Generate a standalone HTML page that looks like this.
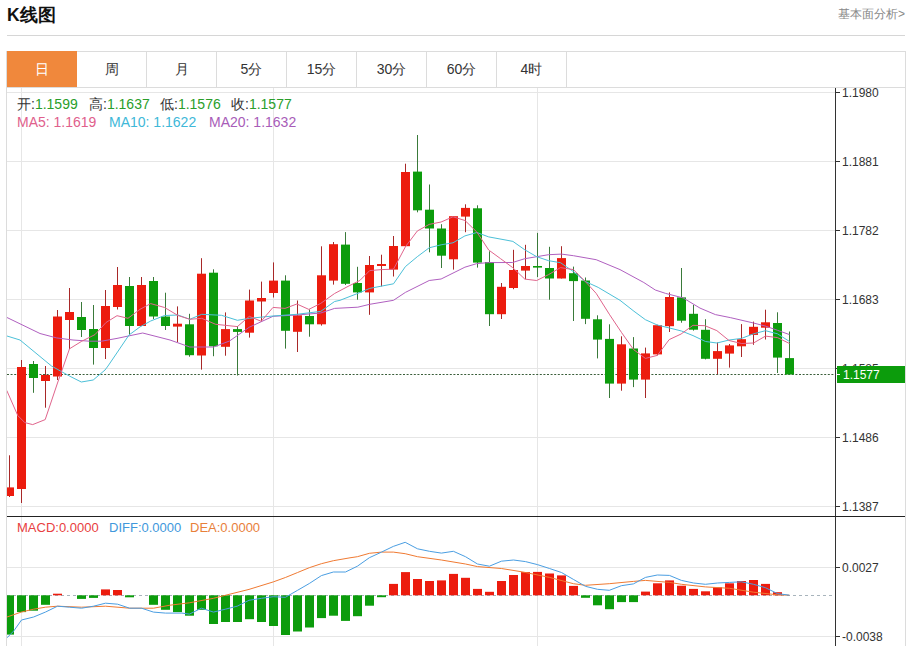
<!DOCTYPE html>
<html><head><meta charset="utf-8">
<style>
html,body{margin:0;padding:0;background:#fff;}
body{width:911px;height:646px;overflow:hidden;position:relative;font-family:"Liberation Sans",sans-serif;}
.title{position:absolute;left:7px;top:5px;font-size:17.5px;font-weight:bold;color:#111;line-height:20px;}
.more{position:absolute;right:6px;top:6px;font-size:12px;color:#888;line-height:16px;}
.hr{position:absolute;left:7px;top:35px;width:898px;height:1px;background:#d6d6d6;}
.box{position:absolute;left:6px;top:51px;width:898px;height:600px;border:1px solid #dcdcdc;}
.tabs{position:absolute;left:7px;top:52px;height:35px;}
.tab{position:absolute;top:0;width:69px;height:35px;border-right:1px solid #dcdcdc;font-size:14px;color:#333;text-align:center;line-height:35px;}
.tab.on{background:#f0883c;color:#fff;border-right-color:#f0883c;top:-1px;height:36px;line-height:37px;}
.tabline{position:absolute;left:7px;top:87px;width:898px;height:1px;background:#dcdcdc;}
svg{position:absolute;left:0;top:0;}
.ax{font-size:12px;fill:#333;font-family:"Liberation Sans",sans-serif;}
.info{position:absolute;font-size:14px;line-height:16px;white-space:nowrap;}
.k{color:#333;} .g{color:#2a9e2a;}
</style></head><body>
<div class="title">K线图</div>
<div class="more">基本面分析&gt;</div>
<div class="hr"></div>
<div class="box"></div>
<div class="tabs">
<div class="tab on" style="left:0">日</div>
<div class="tab" style="left:70px">周</div>
<div class="tab" style="left:140px">月</div>
<div class="tab" style="left:210px">5分</div>
<div class="tab" style="left:280px">15分</div>
<div class="tab" style="left:350px">30分</div>
<div class="tab" style="left:420px">60分</div>
<div class="tab" style="left:490px">4时</div>
</div>
<div class="tabline"></div>
<svg width="911" height="646" viewBox="0 0 911 646">
<line x1="7" y1="92.5" x2="835" y2="92.5" stroke="#e6e6e6" stroke-width="1"/>
<line x1="7" y1="161.5" x2="835" y2="161.5" stroke="#e6e6e6" stroke-width="1"/>
<line x1="7" y1="230.5" x2="835" y2="230.5" stroke="#e6e6e6" stroke-width="1"/>
<line x1="7" y1="299.5" x2="835" y2="299.5" stroke="#e6e6e6" stroke-width="1"/>
<line x1="7" y1="368.5" x2="835" y2="368.5" stroke="#e6e6e6" stroke-width="1"/>
<line x1="7" y1="437.5" x2="835" y2="437.5" stroke="#e6e6e6" stroke-width="1"/>
<line x1="7" y1="506.5" x2="835" y2="506.5" stroke="#e6e6e6" stroke-width="1"/>
<line x1="7" y1="567.5" x2="835" y2="567.5" stroke="#e6e6e6" stroke-width="1"/>
<line x1="7" y1="636.5" x2="835" y2="636.5" stroke="#e6e6e6" stroke-width="1"/>
<line x1="21.5" y1="88" x2="21.5" y2="646" stroke="#e6e6e6" stroke-width="1"/>
<line x1="273.5" y1="88" x2="273.5" y2="646" stroke="#e6e6e6" stroke-width="1"/>
<line x1="537.5" y1="88" x2="537.5" y2="646" stroke="#e6e6e6" stroke-width="1"/>
<clipPath id="c"><rect x="7" y="88" width="828" height="428"/></clipPath><clipPath id="m"><rect x="7" y="517" width="828" height="129"/></clipPath>
<g clip-path="url(#c)">
<line x1="7" y1="374.5" x2="834" y2="374.5" stroke="#3a5e3a" stroke-width="1" stroke-dasharray="2 1.6"/>
<rect x="9" y="455.3" width="1" height="41.7" fill="#a82828"/>
<rect x="5" y="487.4" width="9" height="8.6" fill="#ec1c0e"/>
<rect x="21" y="360.0" width="1" height="143.0" fill="#a82828"/>
<rect x="17" y="367.0" width="9" height="122.0" fill="#ec1c0e"/>
<rect x="33" y="361.0" width="1" height="31.8" fill="#3a7a3a"/>
<rect x="29" y="364.0" width="9" height="14.0" fill="#0c9c0c"/>
<rect x="45" y="366.0" width="1" height="41.7" fill="#a82828"/>
<rect x="41" y="375.0" width="9" height="6.0" fill="#ec1c0e"/>
<rect x="57" y="310.0" width="1" height="70.0" fill="#a82828"/>
<rect x="53" y="316.5" width="9" height="60.0" fill="#ec1c0e"/>
<rect x="69" y="288.0" width="1" height="61.0" fill="#a82828"/>
<rect x="65" y="312.0" width="9" height="8.0" fill="#ec1c0e"/>
<rect x="81" y="302.0" width="1" height="35.0" fill="#3a7a3a"/>
<rect x="77" y="317.0" width="9" height="13.0" fill="#0c9c0c"/>
<rect x="93" y="305.0" width="1" height="59.6" fill="#3a7a3a"/>
<rect x="89" y="329.0" width="9" height="19.0" fill="#0c9c0c"/>
<rect x="105" y="290.0" width="1" height="69.0" fill="#a82828"/>
<rect x="101" y="306.0" width="9" height="42.0" fill="#ec1c0e"/>
<rect x="117" y="267.0" width="1" height="42.5" fill="#a82828"/>
<rect x="113" y="285.0" width="9" height="22.0" fill="#ec1c0e"/>
<rect x="129" y="277.0" width="1" height="58.0" fill="#3a7a3a"/>
<rect x="125" y="286.0" width="9" height="40.0" fill="#0c9c0c"/>
<rect x="141" y="277.0" width="1" height="49.0" fill="#a82828"/>
<rect x="137" y="285.0" width="9" height="41.0" fill="#ec1c0e"/>
<rect x="153" y="277.0" width="1" height="42.0" fill="#3a7a3a"/>
<rect x="149" y="281.0" width="9" height="35.5" fill="#0c9c0c"/>
<rect x="165" y="292.7" width="1" height="37.3" fill="#3a7a3a"/>
<rect x="161" y="316.5" width="9" height="9.5" fill="#0c9c0c"/>
<rect x="177" y="306.4" width="1" height="35.6" fill="#a82828"/>
<rect x="173" y="323.7" width="9" height="2.9" fill="#ec1c0e"/>
<rect x="189" y="313.8" width="1" height="42.9" fill="#3a7a3a"/>
<rect x="185" y="324.3" width="9" height="30.9" fill="#0c9c0c"/>
<rect x="201" y="258.2" width="1" height="111.4" fill="#a82828"/>
<rect x="197" y="273.7" width="9" height="81.8" fill="#ec1c0e"/>
<rect x="213" y="269.3" width="1" height="86.9" fill="#3a7a3a"/>
<rect x="209" y="272.7" width="9" height="73.6" fill="#0c9c0c"/>
<rect x="225" y="312.4" width="1" height="43.3" fill="#a82828"/>
<rect x="221" y="329.1" width="9" height="17.7" fill="#ec1c0e"/>
<rect x="237" y="326.0" width="1" height="49.5" fill="#3a7a3a"/>
<rect x="233" y="329.1" width="9" height="2.8" fill="#0c9c0c"/>
<rect x="249" y="289.6" width="1" height="48.0" fill="#a82828"/>
<rect x="245" y="300.5" width="9" height="32.2" fill="#ec1c0e"/>
<rect x="261" y="281.6" width="1" height="39.7" fill="#a82828"/>
<rect x="257" y="298.0" width="9" height="3.5" fill="#ec1c0e"/>
<rect x="273" y="262.4" width="1" height="35.1" fill="#a82828"/>
<rect x="269" y="280.6" width="9" height="12.4" fill="#ec1c0e"/>
<rect x="285" y="275.3" width="1" height="73.3" fill="#3a7a3a"/>
<rect x="281" y="280.6" width="9" height="50.2" fill="#0c9c0c"/>
<rect x="297" y="300.5" width="1" height="51.5" fill="#a82828"/>
<rect x="293" y="315.3" width="9" height="16.5" fill="#ec1c0e"/>
<rect x="309" y="309.4" width="1" height="27.3" fill="#3a7a3a"/>
<rect x="305" y="316.0" width="9" height="8.3" fill="#0c9c0c"/>
<rect x="321" y="246.3" width="1" height="79.3" fill="#a82828"/>
<rect x="317" y="275.3" width="9" height="49.0" fill="#ec1c0e"/>
<rect x="333" y="242.0" width="1" height="42.6" fill="#a82828"/>
<rect x="329" y="244.2" width="9" height="36.4" fill="#ec1c0e"/>
<rect x="345" y="232.1" width="1" height="52.9" fill="#3a7a3a"/>
<rect x="341" y="244.6" width="9" height="39.2" fill="#0c9c0c"/>
<rect x="357" y="266.8" width="1" height="32.9" fill="#3a7a3a"/>
<rect x="353" y="283.0" width="9" height="9.4" fill="#0c9c0c"/>
<rect x="369" y="256.0" width="1" height="58.8" fill="#a82828"/>
<rect x="365" y="265.0" width="9" height="27.4" fill="#ec1c0e"/>
<rect x="381" y="254.7" width="1" height="31.7" fill="#a82828"/>
<rect x="377" y="264.0" width="9" height="2.0" fill="#ec1c0e"/>
<rect x="393" y="236.0" width="1" height="40.5" fill="#a82828"/>
<rect x="389" y="246.0" width="9" height="23.6" fill="#ec1c0e"/>
<rect x="405" y="163.7" width="1" height="82.7" fill="#a82828"/>
<rect x="401" y="172.0" width="9" height="74.2" fill="#ec1c0e"/>
<rect x="417" y="135.0" width="1" height="77.3" fill="#3a7a3a"/>
<rect x="413" y="171.6" width="9" height="38.7" fill="#0c9c0c"/>
<rect x="429" y="184.5" width="1" height="67.8" fill="#3a7a3a"/>
<rect x="425" y="209.7" width="9" height="18.8" fill="#0c9c0c"/>
<rect x="441" y="224.2" width="1" height="43.8" fill="#3a7a3a"/>
<rect x="437" y="228.5" width="9" height="27.2" fill="#0c9c0c"/>
<rect x="453" y="216.2" width="1" height="53.4" fill="#a82828"/>
<rect x="449" y="216.2" width="9" height="43.1" fill="#ec1c0e"/>
<rect x="465" y="204.3" width="1" height="27.9" fill="#a82828"/>
<rect x="461" y="207.9" width="9" height="8.7" fill="#ec1c0e"/>
<rect x="477" y="205.3" width="1" height="62.3" fill="#3a7a3a"/>
<rect x="473" y="208.3" width="9" height="54.3" fill="#0c9c0c"/>
<rect x="489" y="251.3" width="1" height="74.7" fill="#3a7a3a"/>
<rect x="485" y="262.0" width="9" height="52.2" fill="#0c9c0c"/>
<rect x="501" y="283.0" width="1" height="36.0" fill="#a82828"/>
<rect x="497" y="286.8" width="9" height="27.4" fill="#ec1c0e"/>
<rect x="513" y="249.8" width="1" height="39.4" fill="#a82828"/>
<rect x="509" y="270.0" width="9" height="18.0" fill="#ec1c0e"/>
<rect x="525" y="244.8" width="1" height="34.3" fill="#a82828"/>
<rect x="521" y="266.0" width="9" height="4.6" fill="#ec1c0e"/>
<rect x="537" y="232.9" width="1" height="44.2" fill="#3a7a3a"/>
<rect x="533" y="266.0" width="9" height="1.6" fill="#0c9c0c"/>
<rect x="549" y="246.8" width="1" height="52.9" fill="#3a7a3a"/>
<rect x="545" y="268.0" width="9" height="10.5" fill="#0c9c0c"/>
<rect x="561" y="246.2" width="1" height="32.3" fill="#a82828"/>
<rect x="557" y="258.1" width="9" height="20.4" fill="#ec1c0e"/>
<rect x="573" y="266.6" width="1" height="54.4" fill="#3a7a3a"/>
<rect x="569" y="273.2" width="9" height="7.9" fill="#0c9c0c"/>
<rect x="585" y="277.5" width="1" height="46.6" fill="#3a7a3a"/>
<rect x="581" y="280.5" width="9" height="38.3" fill="#0c9c0c"/>
<rect x="597" y="315.3" width="1" height="43.1" fill="#3a7a3a"/>
<rect x="593" y="319.3" width="9" height="20.3" fill="#0c9c0c"/>
<rect x="609" y="324.3" width="1" height="73.7" fill="#3a7a3a"/>
<rect x="605" y="338.9" width="9" height="44.7" fill="#0c9c0c"/>
<rect x="621" y="336.3" width="1" height="54.4" fill="#a82828"/>
<rect x="617" y="344.3" width="9" height="39.3" fill="#ec1c0e"/>
<rect x="633" y="337.1" width="1" height="50.0" fill="#3a7a3a"/>
<rect x="629" y="348.5" width="9" height="31.1" fill="#0c9c0c"/>
<rect x="645" y="347.6" width="1" height="50.4" fill="#a82828"/>
<rect x="641" y="353.4" width="9" height="26.2" fill="#ec1c0e"/>
<rect x="657" y="324.7" width="1" height="30.7" fill="#a82828"/>
<rect x="653" y="325.2" width="9" height="29.2" fill="#ec1c0e"/>
<rect x="669" y="292.4" width="1" height="39.6" fill="#a82828"/>
<rect x="665" y="297.0" width="9" height="29.2" fill="#ec1c0e"/>
<rect x="681" y="268.0" width="1" height="54.7" fill="#3a7a3a"/>
<rect x="677" y="297.4" width="9" height="23.3" fill="#0c9c0c"/>
<rect x="693" y="304.9" width="1" height="25.7" fill="#3a7a3a"/>
<rect x="689" y="313.8" width="9" height="15.9" fill="#0c9c0c"/>
<rect x="705" y="319.2" width="1" height="40.2" fill="#3a7a3a"/>
<rect x="701" y="329.8" width="9" height="29.0" fill="#0c9c0c"/>
<rect x="717" y="342.4" width="1" height="31.8" fill="#a82828"/>
<rect x="713" y="351.1" width="9" height="7.7" fill="#ec1c0e"/>
<rect x="729" y="344.0" width="1" height="23.6" fill="#a82828"/>
<rect x="725" y="345.4" width="9" height="8.2" fill="#ec1c0e"/>
<rect x="741" y="324.1" width="1" height="32.9" fill="#a82828"/>
<rect x="737" y="339.2" width="9" height="7.1" fill="#ec1c0e"/>
<rect x="753" y="321.6" width="1" height="23.2" fill="#a82828"/>
<rect x="749" y="326.8" width="9" height="8.1" fill="#ec1c0e"/>
<rect x="765" y="309.7" width="1" height="29.8" fill="#a82828"/>
<rect x="761" y="322.3" width="9" height="5.4" fill="#ec1c0e"/>
<rect x="777" y="312.3" width="1" height="60.7" fill="#3a7a3a"/>
<rect x="773" y="323.0" width="9" height="34.6" fill="#0c9c0c"/>
<rect x="789" y="331.5" width="1" height="43.0" fill="#3a7a3a"/>
<rect x="785" y="358.1" width="9" height="16.4" fill="#0c9c0c"/>
<polyline points="0.0,315.0 7.0,317.5 40.0,333.5 56.5,337.9 73.0,340.0 89.5,341.2 101.5,341.2 117.0,338.4 142.7,333.0 170.0,340.0 189.8,347.0 213.6,347.0 229.5,341.0 249.3,327.2 273.0,316.3 296.9,315.0 320.7,313.0 334.6,308.4 357.8,307.2 369.7,304.3 393.5,300.3 405.4,292.4 429.2,280.5 441.1,279.0 464.9,267.2 476.8,263.6 488.7,262.6 512.5,262.5 524.8,258.7 536.7,256.7 548.6,254.7 561.5,254.1 573.4,255.7 596.2,259.7 620.0,269.6 643.8,282.5 655.3,290.0 665.6,293.4 683.1,297.9 700.0,308.1 715.4,314.6 730.7,317.7 753.5,323.0 765.5,326.1 777.5,330.3 789.5,334.6" fill="none" stroke="#b060c0" stroke-width="1"/>
<polyline points="0.0,334.0 7.0,336.0 20.0,340.0 40.0,356.5 51.5,366.0 69.4,376.0 81.3,382.0 93.2,380.0 105.0,370.0 108.0,366.0 117.5,352.0 129.0,335.0 140.0,326.9 150.7,321.0 164.6,315.5 178.0,315.0 189.8,319.3 201.7,314.3 221.5,315.3 237.4,320.3 249.3,318.3 273.0,316.0 296.9,314.3 320.7,311.4 334.6,301.5 340.0,300.3 357.8,293.4 369.7,288.4 393.5,283.8 405.4,266.6 417.3,256.7 429.2,247.8 441.1,244.8 453.0,242.8 464.9,235.9 476.8,232.5 488.7,236.9 505.0,239.9 512.9,241.4 524.8,249.8 536.7,256.7 548.6,260.7 560.5,262.7 573.4,271.6 585.3,281.5 598.2,287.4 620.0,300.3 633.9,311.2 645.4,319.7 657.5,325.1 669.5,328.0 681.5,331.0 693.0,335.6 705.5,341.5 716.9,343.0 729.2,340.0 741.5,338.4 753.5,333.8 765.5,330.7 777.5,333.8 789.5,341.5" fill="none" stroke="#4cc0d8" stroke-width="1"/>
<polyline points="0.0,380.0 7.0,391.0 17.8,415.6 24.8,422.6 32.7,424.6 45.2,419.6 57.5,383.0 69.5,348.8 81.8,341.2 95.0,334.6 106.0,322.5 117.0,315.7 128.0,318.3 140.0,309.3 150.7,303.6 164.6,307.5 178.0,315.5 189.8,319.3 201.7,318.3 215.6,324.3 237.4,326.6 249.3,316.3 261.2,321.3 273.0,307.4 285.0,308.4 296.9,304.0 308.8,309.4 320.7,303.4 334.6,293.5 348.0,286.4 359.8,280.5 369.7,270.6 381.6,269.6 393.5,269.2 405.4,246.8 417.3,231.0 429.2,224.4 441.1,222.0 453.0,216.8 465.0,220.5 476.8,232.0 488.7,250.0 500.6,258.7 512.7,267.6 524.8,279.1 536.7,280.5 548.6,274.6 560.5,267.6 573.4,269.6 585.3,281.5 596.2,293.4 609.7,314.8 621.6,332.6 633.5,349.5 645.4,358.4 657.3,355.4 669.2,339.6 681.1,334.0 693.0,325.3 704.9,325.7 716.8,330.6 729.0,340.5 741.5,343.5 753.5,343.0 765.5,336.1 777.5,337.6 789.5,343.5" fill="none" stroke="#e0648c" stroke-width="1"/>
</g>
<g clip-path="url(#m)">
<line x1="7" y1="595.5" x2="832" y2="595.5" stroke="#a8b4bc" stroke-width="1" stroke-dasharray="3 3"/>
<rect x="5" y="595.3" width="9" height="39.3" fill="#0c9c0c"/>
<rect x="17" y="595.3" width="9" height="16.8" fill="#0c9c0c"/>
<rect x="29" y="595.3" width="9" height="15.4" fill="#0c9c0c"/>
<rect x="41" y="595.3" width="9" height="9.5" fill="#0c9c0c"/>
<rect x="53" y="593.7" width="9" height="1.6" fill="#ec1c0e"/>
<rect x="77" y="595.3" width="9" height="3.6" fill="#0c9c0c"/>
<rect x="89" y="595.3" width="9" height="2.6" fill="#0c9c0c"/>
<rect x="101" y="589.4" width="9" height="5.9" fill="#ec1c0e"/>
<rect x="113" y="590.0" width="9" height="5.3" fill="#ec1c0e"/>
<rect x="125" y="595.3" width="9" height="2.0" fill="#0c9c0c"/>
<rect x="149" y="595.3" width="9" height="9.5" fill="#0c9c0c"/>
<rect x="161" y="595.3" width="9" height="14.5" fill="#0c9c0c"/>
<rect x="173" y="595.3" width="9" height="16.8" fill="#0c9c0c"/>
<rect x="185" y="595.3" width="9" height="20.4" fill="#0c9c0c"/>
<rect x="197" y="595.3" width="9" height="14.5" fill="#0c9c0c"/>
<rect x="209" y="595.3" width="9" height="28.7" fill="#0c9c0c"/>
<rect x="221" y="595.3" width="9" height="26.7" fill="#0c9c0c"/>
<rect x="233" y="595.3" width="9" height="26.7" fill="#0c9c0c"/>
<rect x="245" y="595.3" width="9" height="23.9" fill="#0c9c0c"/>
<rect x="257" y="595.3" width="9" height="26.7" fill="#0c9c0c"/>
<rect x="269" y="595.3" width="9" height="30.7" fill="#0c9c0c"/>
<rect x="281" y="595.3" width="9" height="39.7" fill="#0c9c0c"/>
<rect x="293" y="595.3" width="9" height="36.2" fill="#0c9c0c"/>
<rect x="305" y="595.3" width="9" height="32.2" fill="#0c9c0c"/>
<rect x="317" y="595.3" width="9" height="22.8" fill="#0c9c0c"/>
<rect x="329" y="595.3" width="9" height="20.4" fill="#0c9c0c"/>
<rect x="341" y="595.3" width="9" height="25.6" fill="#0c9c0c"/>
<rect x="353" y="595.3" width="9" height="20.9" fill="#0c9c0c"/>
<rect x="365" y="595.3" width="9" height="10.4" fill="#0c9c0c"/>
<rect x="377" y="595.3" width="9" height="1.9" fill="#0c9c0c"/>
<rect x="389" y="583.9" width="9" height="11.4" fill="#ec1c0e"/>
<rect x="401" y="572.1" width="9" height="23.2" fill="#ec1c0e"/>
<rect x="413" y="579.0" width="9" height="16.3" fill="#ec1c0e"/>
<rect x="425" y="581.0" width="9" height="14.3" fill="#ec1c0e"/>
<rect x="437" y="580.4" width="9" height="14.9" fill="#ec1c0e"/>
<rect x="449" y="573.9" width="9" height="21.4" fill="#ec1c0e"/>
<rect x="461" y="577.8" width="9" height="17.5" fill="#ec1c0e"/>
<rect x="473" y="588.9" width="9" height="6.4" fill="#ec1c0e"/>
<rect x="485" y="591.8" width="9" height="3.5" fill="#ec1c0e"/>
<rect x="497" y="581.0" width="9" height="14.3" fill="#ec1c0e"/>
<rect x="509" y="575.0" width="9" height="20.3" fill="#ec1c0e"/>
<rect x="521" y="572.1" width="9" height="23.2" fill="#ec1c0e"/>
<rect x="533" y="571.9" width="9" height="23.4" fill="#ec1c0e"/>
<rect x="545" y="573.5" width="9" height="21.8" fill="#ec1c0e"/>
<rect x="557" y="575.4" width="9" height="19.9" fill="#ec1c0e"/>
<rect x="569" y="585.9" width="9" height="9.4" fill="#ec1c0e"/>
<rect x="581" y="595.3" width="9" height="2.5" fill="#0c9c0c"/>
<rect x="593" y="595.3" width="9" height="10.0" fill="#0c9c0c"/>
<rect x="605" y="595.3" width="9" height="13.9" fill="#0c9c0c"/>
<rect x="617" y="595.3" width="9" height="6.8" fill="#0c9c0c"/>
<rect x="629" y="595.3" width="9" height="6.8" fill="#0c9c0c"/>
<rect x="641" y="591.6" width="9" height="3.7" fill="#ec1c0e"/>
<rect x="653" y="583.3" width="9" height="12.0" fill="#ec1c0e"/>
<rect x="665" y="580.4" width="9" height="14.9" fill="#ec1c0e"/>
<rect x="677" y="585.7" width="9" height="9.6" fill="#ec1c0e"/>
<rect x="689" y="588.9" width="9" height="6.4" fill="#ec1c0e"/>
<rect x="701" y="591.3" width="9" height="4.0" fill="#ec1c0e"/>
<rect x="713" y="587.3" width="9" height="8.0" fill="#ec1c0e"/>
<rect x="725" y="583.3" width="9" height="12.0" fill="#ec1c0e"/>
<rect x="737" y="581.0" width="9" height="14.3" fill="#ec1c0e"/>
<rect x="749" y="580.0" width="9" height="15.3" fill="#ec1c0e"/>
<rect x="761" y="583.9" width="9" height="11.4" fill="#ec1c0e"/>
<rect x="773" y="592.2" width="9" height="3.1" fill="#ec1c0e"/>
<polyline points="0.0,619.0 7.0,617.0 21.5,612.0 33.6,609.2 45.4,607.2 57.5,606.2 81.6,607.2 105.5,606.2 129.6,608.2 153.5,608.2 170.0,605.2 189.4,602.8 213.5,598.3 225.3,595.3 249.0,589.4 273.3,581.9 285.4,577.5 297.4,572.6 309.3,567.7 321.4,563.7 333.4,560.7 350.0,557.8 357.4,556.7 369.4,553.3 381.5,552.1 393.3,552.1 405.2,553.7 417.5,556.7 441.4,560.0 465.5,564.0 477.5,566.6 501.4,568.5 520.0,571.5 525.5,572.5 549.5,577.4 573.4,583.7 585.4,585.3 609.3,583.7 633.4,581.4 645.5,580.4 669.4,582.4 681.5,584.3 705.4,586.9 729.6,588.3 753.5,592.2 777.4,594.8 789.4,595.2" fill="none" stroke="#f07a32" stroke-width="1"/>
<polyline points="0.0,645.0 7.0,637.8 13.8,630.9 21.5,620.0 33.6,617.0 45.4,612.1 57.5,606.2 69.5,607.2 81.6,608.2 93.5,606.2 105.5,603.2 117.6,604.2 129.6,608.2 141.5,608.2 153.5,612.1 165.6,613.1 181.9,613.1 189.4,614.1 201.4,608.2 213.5,612.1 225.3,609.2 237.2,606.2 249.0,600.3 261.5,598.3 273.3,596.7 285.4,597.3 297.4,590.4 309.3,583.5 321.4,575.6 333.4,572.0 345.5,572.0 357.4,566.2 369.4,557.7 381.5,552.1 393.3,546.4 405.2,542.3 417.5,548.8 429.5,551.3 441.4,553.1 453.4,551.3 465.5,556.7 477.5,564.0 489.4,566.2 501.4,561.2 513.5,560.0 525.5,561.6 537.4,564.6 549.5,568.5 561.5,572.5 573.4,579.4 585.4,586.3 597.5,589.3 609.3,590.3 621.4,585.7 633.4,583.9 645.5,577.4 657.3,575.0 669.4,575.4 681.4,580.4 693.6,583.0 705.4,584.3 717.5,583.0 729.6,582.4 741.4,581.8 753.5,584.3 765.5,587.7 777.4,593.6 789.4,595.2" fill="none" stroke="#4a9ee2" stroke-width="1"/>
</g>
<line x1="835.5" y1="88" x2="835.5" y2="646" stroke="#333" stroke-width="1"/>
<line x1="7" y1="516.5" x2="905" y2="516.5" stroke="#222" stroke-width="1"/>
<line x1="835" y1="92.5" x2="840" y2="92.5" stroke="#333" stroke-width="1"/>
<text x="842" y="96.5" class="ax">1.1980</text>
<line x1="835" y1="161.5" x2="840" y2="161.5" stroke="#333" stroke-width="1"/>
<text x="842" y="165.5" class="ax">1.1881</text>
<line x1="835" y1="230.5" x2="840" y2="230.5" stroke="#333" stroke-width="1"/>
<text x="842" y="234.5" class="ax">1.1782</text>
<line x1="835" y1="299.5" x2="840" y2="299.5" stroke="#333" stroke-width="1"/>
<text x="842" y="303.5" class="ax">1.1683</text>
<line x1="835" y1="368.5" x2="840" y2="368.5" stroke="#333" stroke-width="1"/>
<text x="842" y="372.5" class="ax">1.1585</text>
<line x1="835" y1="437.5" x2="840" y2="437.5" stroke="#333" stroke-width="1"/>
<text x="842" y="441.5" class="ax">1.1486</text>
<line x1="835" y1="506.5" x2="840" y2="506.5" stroke="#333" stroke-width="1"/>
<text x="842" y="510.5" class="ax">1.1387</text>
<line x1="835" y1="567.5" x2="840" y2="567.5" stroke="#333" stroke-width="1"/>
<text x="842" y="571.5" class="ax">0.0027</text>
<line x1="835" y1="636.5" x2="840" y2="636.5" stroke="#333" stroke-width="1"/>
<text x="842" y="640.5" class="ax">-0.0038</text>
<rect x="837" y="366" width="68" height="17" fill="#0c9c0c"/>
<line x1="836" y1="374.5" x2="840" y2="374.5" stroke="#fff" stroke-width="1"/>
<text x="843" y="379" class="ax" style="fill:#fff">1.1577</text>
</svg>
<div class="info" style="left:17px;top:96px"><span class="k">开:</span><span class="g">1.1599</span></div>
<div class="info" style="left:89px;top:96px"><span class="k">高:</span><span class="g">1.1637</span></div>
<div class="info" style="left:160px;top:96px"><span class="k">低:</span><span class="g">1.1576</span></div>
<div class="info" style="left:231px;top:96px"><span class="k">收:</span><span class="g">1.1577</span></div>
<div class="info" style="left:17px;top:114px;color:#e0608c">MA5: 1.1619</div>
<div class="info" style="left:109px;top:114px;color:#40b8d8">MA10: 1.1622</div>
<div class="info" style="left:209px;top:114px;color:#a85cb8">MA20: 1.1632</div>
<div class="info" style="left:17px;top:520px;font-size:13px;color:#e84040">MACD:0.0000</div>
<div class="info" style="left:109px;top:520px;font-size:13px;color:#4098dc">DIFF:0.0000</div>
<div class="info" style="left:190px;top:520px;font-size:13px;color:#e8803a">DEA:0.0000</div>
</body></html>
